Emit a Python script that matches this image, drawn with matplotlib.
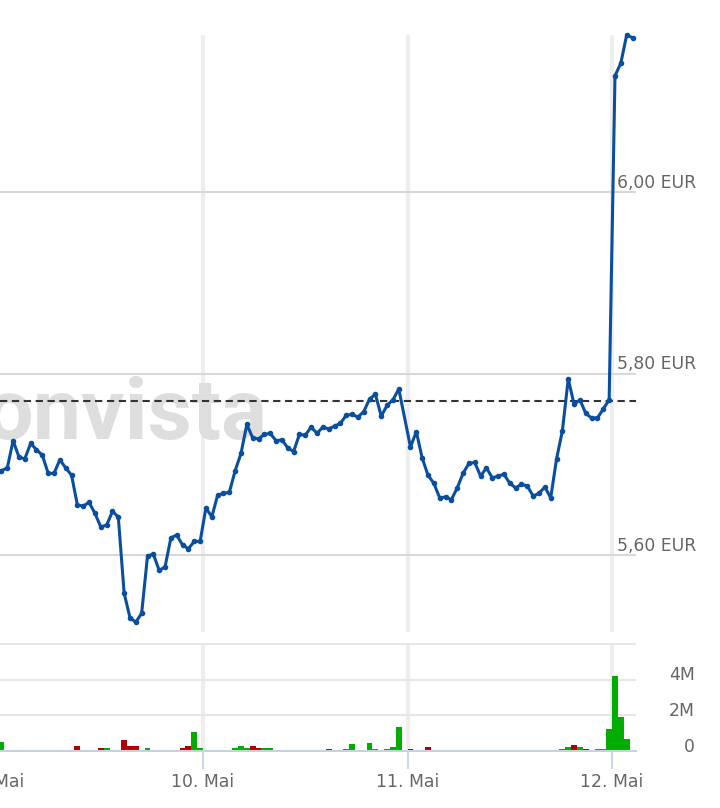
import matplotlib.pyplot as plt

plt.rcParams['font.family'] = ['DejaVu Sans']

# Intraday prices (EUR), one list per trading day
days = [9, 10, 11, 12]
day_labels = ['9. Mai', '10. Mai', '11. Mai', '12. Mai']
pts_per_day = 35

price_9 = [5.693, 5.696, 5.726, 5.708, 5.706, 5.723, 5.716, 5.710, 5.690, 5.690,
           5.705, 5.696, 5.688, 5.655, 5.654, 5.658, 5.646, 5.631, 5.633, 5.648,
           5.642, 5.558, 5.531, 5.526, 5.536, 5.599, 5.601, 5.583, 5.587, 5.619,
           5.622, 5.611, 5.607, 5.615, 5.615]
price_10 = [5.652, 5.642, 5.666, 5.668, 5.669, 5.693, 5.712, 5.744, 5.729, 5.728,
            5.733, 5.734, 5.726, 5.727, 5.718, 5.714, 5.733, 5.732, 5.741, 5.734,
            5.741, 5.739, 5.742, 5.745, 5.754, 5.755, 5.752, 5.758, 5.772, 5.777,
            5.753, 5.765, 5.771, 5.783]
price_11 = [5.719, 5.736, 5.707, 5.688, 5.679, 5.663, 5.664, 5.661, 5.674, 5.690,
            5.701, 5.702, 5.687, 5.696, 5.685, 5.687, 5.689, 5.679, 5.674, 5.678,
            5.676, 5.665, 5.668, 5.675, 5.663, 5.706, 5.737, 5.794, 5.766, 5.771,
            5.756, 5.751, 5.751, 5.761, 5.771]
price_12 = [6.128, 6.142, 6.173, 6.170]

# Volume in millions, same slots as prices
vol_9 = [0.48, 0, 0, 0, 0, 0, 0, 0, 0, 0,
         0, 0, 0, 0.26, 0, 0, 0, 0.15, 0.15, 0,
         0, 0.59, 0.26, 0.26, 0, 0.15, 0, 0, 0, 0,
         0, 0.15, 0.26, 1.04, 0.15]
vol_10 = [0, 0, 0, 0, 0, 0.15, 0.26, 0.15, 0.26, 0.15,
          0.15, 0.15, 0, 0, 0, 0, 0, 0, 0, 0,
          0, 0.11, 0, 0, 0.11, 0.39, 0, 0, 0.44, 0.11,
          0, 0.11, 0.22, 1.33]
vol_11 = [0.11, 0, 0, 0.22, 0, 0, 0, 0, 0, 0,
          0, 0, 0, 0, 0, 0, 0, 0, 0, 0,
          0, 0, 0, 0, 0, 0, 0.11, 0.22, 0.33, 0.22,
          0.11, 0, 0.11, 0.11, 1.22]
vol_12 = [4.22, 1.89, 0.67, 0]

prev_close = 5.77
price_ticks = [5.60, 5.80, 6.00]
price_labels = ['5,60 EUR', '5,80 EUR', '6,00 EUR']
vol_ticks = [0, 2, 4]
vol_labels = ['0', '2M', '4M']

# build flat series
x, p, v = [], [], []
for d, pr, vo in zip(days, [price_9, price_10, price_11, price_12],
                     [vol_9, vol_10, vol_11, vol_12]):
    for i in range(len(pr)):
        x.append(d + (i + 0.5) / pts_per_day)
        p.append(pr[i])
        v.append(vo[i])
colors = ['#00ad00' if i == 0 or p[i] >= p[i - 1] else '#b20000' for i in range(len(p))]

W, H = 720, 808
fig = plt.figure(figsize=(W / 100, H / 100), dpi=100)
ax1 = fig.add_axes([0, 1 - 632 / H, 636 / W, (632 - 35) / H])
ax2 = fig.add_axes([0, 1 - 751 / H, 636 / W, (751 - 643) / H])

xlim = (9.0073, 12.117)

# price panel
ax1.set_xlim(xlim)
ax1.set_ylim(5.5152, 6.173)
ax1.set_axisbelow(True)
ax1.set_yticks(price_ticks)
ax1.set_xticks(days[1:])
ax1.grid(axis='y', color='#d8d8d8', lw=1.5)
ax1.grid(axis='x', color='#eeeeee', lw=3)
ax1.tick_params(length=0, labelleft=False, labelbottom=False)
for s in ax1.spines.values():
    s.set_visible(False)

# watermark
ax1.annotate('onvista', xy=(-16, 369), xycoords='figure pixels', fontsize=62,
             family='Roboto', weight='bold', color='#dedede', va='baseline',
             ha='left', zorder=0.6, annotation_clip=False)
ax1.axhline(prev_close, color='#333333', lw=1.5, dashes=(3.5, 2.2), zorder=2.5)
ax1.plot(x, p, color='#0a4f9f', lw=2.2, marker='o', ms=3.0, clip_on=False,
         solid_joinstyle='round', zorder=3)

for val, lab in zip(price_ticks, price_labels):
    ax1.annotate(lab, xy=(617 / W, val), xycoords=('figure fraction', 'data'),
                 xytext=(0, 3.1), textcoords='offset points', ha='left',
                 va='baseline', fontsize=12.4, color='#666666', annotation_clip=False)

# volume panel
ax2.set_xlim(xlim)
ax2.set_ylim(0, 6.05)
ax2.set_axisbelow(True)
ax2.bar(x, v, width=1 / pts_per_day, color=colors, linewidth=0)
ax2.set_yticks([0, 2, 4, 6])
ax2.grid(axis='y', color='#e6e6e6', lw=1.5)
ax2.grid(axis='x', color='#eeeeee', lw=3)
ax2.set_xticks(days[1:])
ax2.set_xticklabels(day_labels[1:])
ax2.tick_params(axis='x', length=13, width=1.5, color='#ccd6eb', pad=3,
                labelsize=12.4, labelcolor='#666666')
ax2.tick_params(axis='y', length=0, labelleft=False)
for k, s in ax2.spines.items():
    s.set_visible(k == 'bottom')
ax2.spines['bottom'].set_color('#c6d2e2')
ax2.spines['bottom'].set_linewidth(1.5)

ax2.annotate(day_labels[0], xy=(days[0], 0), xycoords=('data', 'axes fraction'),
             xytext=(0, -16), textcoords='offset points', ha='center', va='top',
             fontsize=12.4, color='#666666', annotation_clip=False)

for val, lab in zip(vol_ticks, vol_labels):
    ax2.annotate(lab, xy=(695 / W, val), xycoords=('figure fraction', 'data'),
                 xytext=(0, 3), textcoords='offset points', ha='right',
                 va='center', fontsize=12.4, color='#666666', annotation_clip=False)

fig.savefig('out.png', dpi=100, facecolor='white')
